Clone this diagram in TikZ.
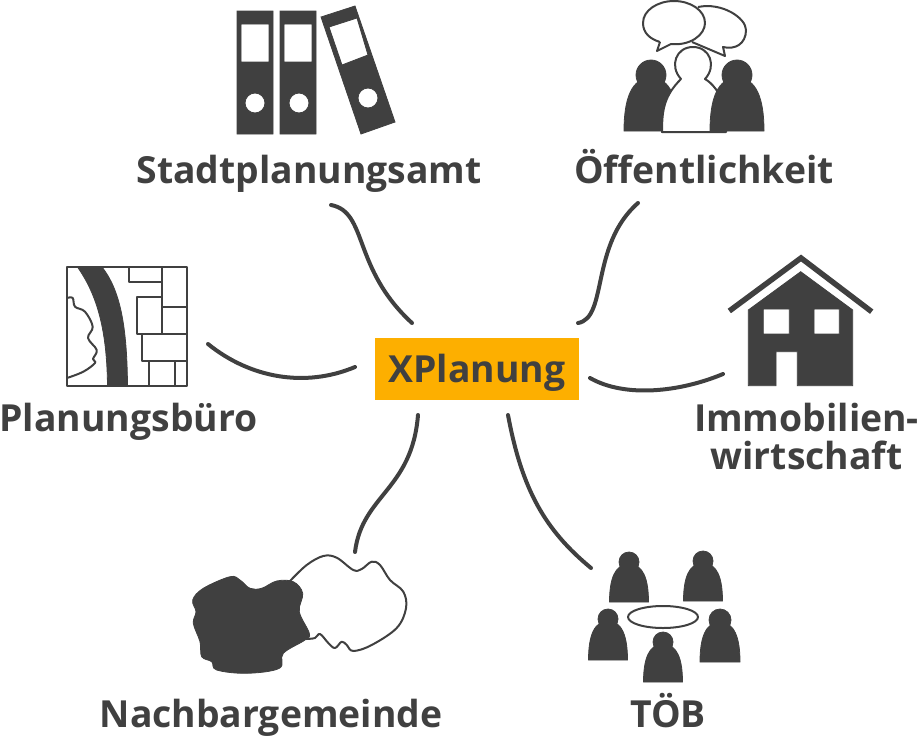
\documentclass[tikz,border=0pt]{standalone}
\usepackage{fontspec}
\setmainfont{Open Sans}
\definecolor{icondark}{HTML}{404040}
\definecolor{boxorange}{HTML}{FDAF00}
\tikzset{
    label/.style={font=\fontsize{37.3}{38}\selectfont\bfseries, text=icondark, inner sep=0pt, align=center},
    connector/.style={draw=icondark, line width=4pt, line cap=round},
    icon/.style={fill=icondark, draw=icondark, line width=.8pt},
    outline/.style={draw=icondark, line width=2pt, line join=round},
}
% person: bottom x, bottom y, half width, head height, head radius
\newcommand{\person}[5]{
    \fill[icon, shift={(#1, #2)}] (-#3, 0) .. controls (-#3, {-.58*(#4)}) and ({-.72*(#3)}, {-.95*(#4)}) .. (0, {-.95*(#4)})
        .. controls ({.72*(#3)}, {-.95*(#4)}) and (#3, {-.58*(#4)}) .. (#3, 0) -- cycle;
    \fill[icon] (#1, {#2-(#4)}) circle (#5);
}
\begin{document}
\begin{tikzpicture}[x=1pt, y=-1pt]
    \useasboundingbox (0, 0) rectangle (918, 736);

    \node[fill=boxorange, minimum width=204pt, minimum height=62pt] at (477, 369)(xplanungbox){};
    \node[label, anchor=base] at (477, 382)(xplanung){XPlanung};

    \node[label, anchor=base] at (309, 183)(stadtplanungsamt){Stadtplanungsamt};
    \node[label, anchor=base] at (704, 183)(oeffentlichkeit){Öffentlichkeit};
    \node[label, anchor=base] at (128.5, 431)(planungsbuero){Planungsbüro};
    \node[label] at (806.5, 437)(immobilien){Immobilien-\\wirtschaft};
    \node[label, anchor=base] at (271, 727)(nachbargemeinde){Nachbargemeinde};
    \node[label, anchor=base] at (668, 727)(toeb){TÖB};

    \coordinate (s0) at (331, 205);
    \coordinate (s1) at (412, 323);
    \coordinate (o0) at (638, 203);
    \coordinate (o1) at (578, 323);
    \coordinate (p0) at (208, 344);
    \coordinate (p1) at (355, 367);
    \coordinate (i0) at (590, 378);
    \coordinate (i1) at (723, 374);
    \coordinate (n0) at (418, 415);
    \coordinate (n1) at (355, 552);
    \coordinate (t0) at (508, 415);
    \coordinate (t1) at (591, 568);

    \draw[connector] (s0) .. controls (368, 212) and (352, 268) .. (s1);
    \draw[connector] (o0) .. controls (590, 245) and (608, 318) .. (o1);
    \draw[connector] (p0) .. controls (250, 378) and (305, 388) .. (p1);
    \draw[connector] (i0) .. controls (625, 398) and (680, 392) .. (i1);
    \draw[connector] (n0) .. controls (412, 490) and (362, 495) .. (n1);
    \draw[connector] (t0) .. controls (522, 490) and (545, 530) .. (t1);

    % ordner
    \fill[icon, even odd rule] (237, 11) rectangle (273, 134) (241, 24) rectangle (269, 62) (255, 103) circle (10);
    \fill[icon, even odd rule] (280, 11) rectangle (316, 134) (284, 24) rectangle (312, 62) (299, 103) circle (10);
    \fill[icon, even odd rule] (321, 17) -- (355, 6) -- (395, 122) -- (361, 134) -- cycle
        (329, 27) -- (357, 18) -- (368, 55) -- (342, 65) -- cycle (368, 98) circle (10);

    % sprechblasen
    \draw[outline] (698, 7) .. controls (722, 2) and (746, 18) .. (746, 30)
        .. controls (746, 44) and (735, 50) .. (723, 47) -- (725, 56) -- (692, 42);
    \draw[outline, fill=white] (660, 42) -- (657, 51) -- (671, 44)
        .. controls (690, 46) and (705, 35) .. (705, 23)
        .. controls (705, 10) and (690, 1) .. (674, 1)
        .. controls (658, 1) and (643, 10) .. (643, 23)
        .. controls (643, 33) and (650, 39) .. (660, 42);

    % personen
    \person{651}{131}{27}{56}{15}
    \draw[outline, fill=white] (662, 132) .. controls (662, 110) and (664, 96) .. (681, 79)
        .. controls (669, 66) and (676, 47) .. (693, 47)
        .. controls (710, 47) and (717, 66) .. (705, 79)
        .. controls (712, 83) and (720, 92) .. (726, 110) -- (726, 132) -- cycle;
    \person{737}{131}{27}{56}{15}

    % plan
    \fill[icon] (77.5, 267) .. controls (95, 292) and (107, 325) .. (107.5, 386) -- (127.5, 386)
        .. controls (127, 325) and (120, 290) .. (102, 267) -- cycle;
    \draw[outline] (67, 267) rectangle (187, 386);
    \draw[outline] (129, 267) -- (129, 281.7) -- (162, 281.7);
    \draw[outline] (162, 267) -- (162, 334);
    \draw[outline] (162, 297) -- (137, 297) -- (137, 334) -- (187, 334);
    \draw[outline] (162, 306.7) -- (187, 306.7);
    \draw[outline] (141.7, 334) -- (141.7, 360.7) -- (187, 360.7);
    \draw[outline] (149.3, 360.7) -- (149.3, 386);
    \draw[outline] (175, 360.7) -- (175, 386);
    \draw[outline] plot[smooth, tension=.6] coordinates {(67, 298) (72.7, 298) (75, 306.7) (85, 311.7) (92.7, 326.7) (88, 338) (96.7, 350) (93, 359) (95, 363) (83.3, 371.7) (67, 378)};

    % gemeinden
    \draw[outline] plot[smooth, tension=.6] coordinates {(290, 581) (306.7, 565) (323.3, 556) (336.7, 557.7) (353.3, 570) (361.7, 569) (371.7, 561.7) (380, 565) (390, 580) (403.3, 591.7) (406, 608.3) (396.7, 628) (371.7, 645) (353.3, 651) (346.7, 645) (341.7, 641.7) (335, 648) (328.3, 643) (320, 634) (315, 638) (306, 639)};
    \fill[icon] plot[smooth cycle, tension=.6] coordinates {(192.7, 600) (203.3, 588.3) (230, 576.7) (240, 580) (250, 588.3) (261.7, 588.3) (276.7, 581) (293.3, 581.7) (302.7, 593.3) (299.3, 611.7) (309.3, 633.3) (305, 640) (283.3, 653.3) (279.3, 668.3) (246.7, 673.3) (216.7, 670) (211.7, 661.7) (201.7, 656.7) (200, 641.7) (193.3, 623.3) (196, 611.7)};

    % runder tisch
    \person{629}{602}{19.5}{40}{10}
    \person{703}{601}{19.5}{40}{10}
    \person{608}{660}{19.5}{41}{10}
    \person{720}{662}{20}{42}{11}
    \person{663}{682}{19.5}{40}{10}
    \draw[outline] (663, 617) ellipse (35 and 11);

    % haus
    \fill[icon, even odd rule] (748.3, 310) -- (800.7, 271.7) -- (852.7, 310) -- (852.7, 385.7) -- (797.3, 385.7) -- (797.3, 351.7) -- (776, 351.7) -- (776, 385.7) -- (748.3, 385.7) -- cycle
        (763.3, 309) rectangle (789.3, 334) (814, 309) rectangle (839.3, 334);
    \draw[icondark, line width=5.5pt, line join=miter] (729.3, 311) -- (801, 258) -- (871.7, 311.7);
\end{tikzpicture}
\end{document}
